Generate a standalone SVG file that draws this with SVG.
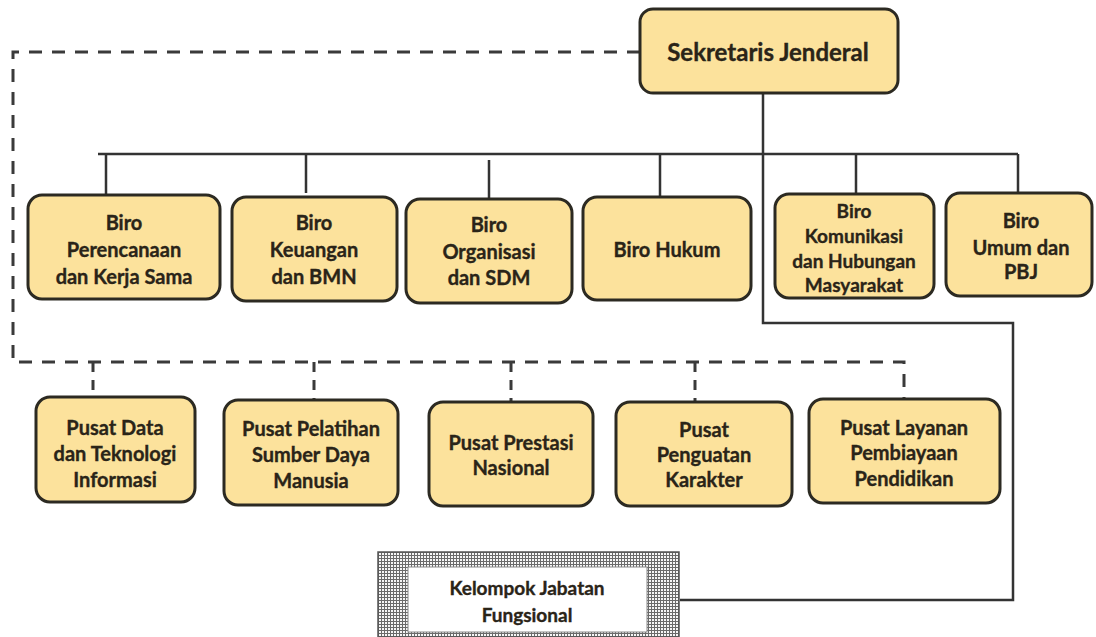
<svg xmlns="http://www.w3.org/2000/svg" width="1096" height="637" viewBox="0 0 1096 637">
<defs>
<pattern id="hatch" width="3" height="3" patternUnits="userSpaceOnUse">
<rect width="3" height="3" fill="#f6f6f6"/>
<path d="M0 0.5H3M0.5 0V3" stroke="#6a6a6a" stroke-width="1"/>
</pattern>
</defs>
<style>
.box{fill:#fce29c;stroke:#2c2a22;stroke-width:3}
.t{font-family:Lato,"Liberation Sans",sans-serif;font-weight:bold;font-size:20px;fill:#2a2418;stroke:#2a2418;stroke-width:0.35;text-anchor:middle}
.sj{font-size:24px}
.sm{font-size:19px}
.kj{font-size:19px}
.solid{fill:none;stroke:#333;stroke-width:2.5}
.dash{fill:none;stroke:#3a3a3a;stroke-width:3;stroke-dasharray:13 10}
</style>
<rect width="1096" height="637" fill="#fff"/>
<g id="connectors">
<path class="dash" d="M640 52H13V362H904V398"/>
<path class="dash" d="M93 362V397M314 362V400M511 362V402M695 362V402" style="stroke-dasharray:10 8"/>
<path class="solid" d="M98 154H1018"/>
<path class="solid" d="M106 154V195M306 154V193M489 160V199M660 154V197M856 154V194M1018 154V193"/>
<path class="solid" d="M763 93V323H1013V600H680"/>
</g>
<g id="sekjen">
<rect class="box" x="640" y="9" width="258" height="84" rx="13"/>
<text class="t sj" x="768" y="61">Sekretaris Jenderal</text>
</g>
<g id="biro-perencanaan">
<rect class="box" x="28" y="195" width="192" height="104" rx="14"/>
<text class="t" x="124" y="230">Biro</text>
<text class="t" x="124" y="257">Perencanaan</text>
<text class="t" x="124" y="284">dan Kerja Sama</text>
</g>
<g id="biro-keuangan">
<rect class="box" x="232" y="197" width="165" height="104" rx="14"/>
<text class="t" x="314" y="230">Biro</text>
<text class="t" x="314" y="257">Keuangan</text>
<text class="t" x="314" y="284">dan BMN</text>
</g>
<g id="biro-organisasi">
<rect class="box" x="406" y="199" width="166" height="104" rx="14"/>
<text class="t" x="489" y="232">Biro</text>
<text class="t" x="489" y="259">Organisasi</text>
<text class="t" x="489" y="285">dan SDM</text>
</g>
<g id="biro-hukum">
<rect class="box" x="583" y="197" width="168" height="103" rx="14"/>
<text class="t" x="667" y="257">Biro Hukum</text>
</g>
<g id="biro-komunikasi">
<rect class="box" x="775" y="194" width="159" height="104" rx="14"/>
<text class="t sm" x="854" y="218">Biro</text>
<text class="t sm" x="854" y="243">Komunikasi</text>
<text class="t sm" x="854" y="268">dan Hubungan</text>
<text class="t sm" x="854" y="292">Masyarakat</text>
</g>
<g id="biro-umum">
<rect class="box" x="946" y="193" width="146" height="103" rx="14"/>
<text class="t" x="1021" y="228">Biro</text>
<text class="t" x="1021" y="255">Umum dan</text>
<text class="t" x="1021" y="279">PBJ</text>
</g>
<g id="pusat-data">
<rect class="box" x="36" y="397" width="159" height="105" rx="14"/>
<text class="t" x="115" y="435">Pusat Data</text>
<text class="t" x="115" y="461">dan Teknologi</text>
<text class="t" x="115" y="487">Informasi</text>
</g>
<g id="pusat-pelatihan">
<rect class="box" x="224" y="400" width="174" height="105" rx="14"/>
<text class="t" x="311" y="436">Pusat Pelatihan</text>
<text class="t" x="311" y="462">Sumber Daya</text>
<text class="t" x="311" y="488">Manusia</text>
</g>
<g id="pusat-prestasi">
<rect class="box" x="429" y="402" width="164" height="104" rx="14"/>
<text class="t" x="511" y="450">Pusat Prestasi</text>
<text class="t" x="511" y="475">Nasional</text>
</g>
<g id="pusat-penguatan">
<rect class="box" x="616" y="402" width="176" height="104" rx="14"/>
<text class="t" x="704" y="437">Pusat</text>
<text class="t" x="704" y="462">Penguatan</text>
<text class="t" x="704" y="487">Karakter</text>
</g>
<g id="pusat-layanan">
<rect class="box" x="809" y="399" width="191" height="104" rx="14"/>
<text class="t" x="904" y="435">Pusat Layanan</text>
<text class="t" x="904" y="460">Pembiayaan</text>
<text class="t" x="904" y="486">Pendidikan</text>
</g>
<g id="kelompok-jabatan">
<rect x="378" y="552" width="301" height="85" fill="url(#hatch)" stroke="#555" stroke-width="1.5"/>
<rect x="408" y="567" width="239" height="65" fill="#fff" stroke="#888" stroke-width="1"/>
<text class="t kj" x="527" y="595">Kelompok Jabatan</text>
<text class="t kj" x="527" y="622">Fungsional</text>
</g>
</svg>
